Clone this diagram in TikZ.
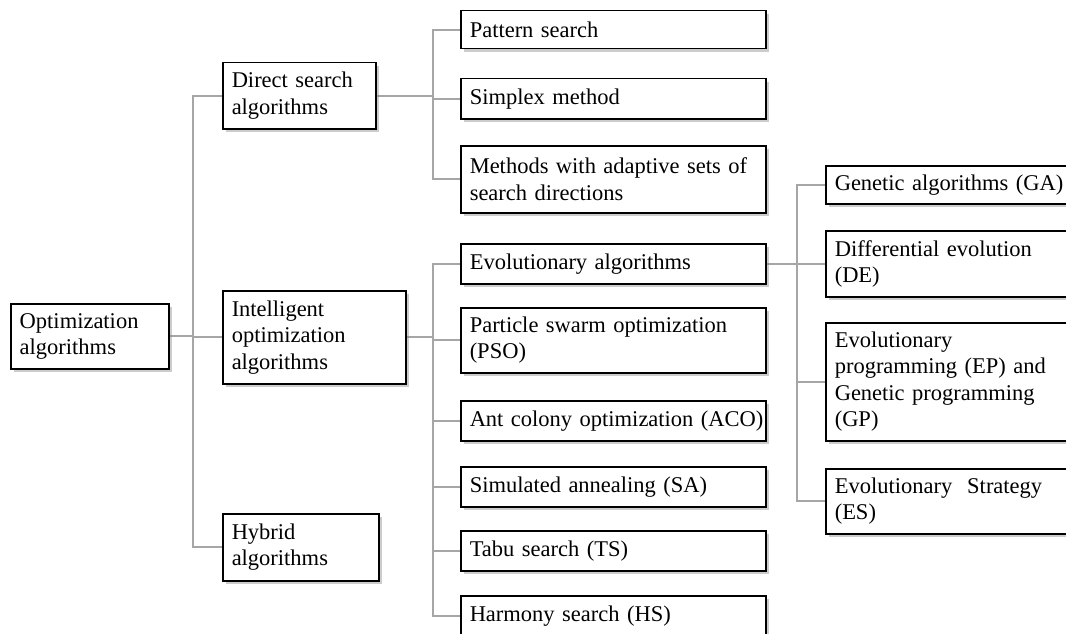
\documentclass[tikz,border=0pt]{standalone}
\usepackage{fontspec}
\setmainfont{Liberation Serif}
\usetikzlibrary{shadows,backgrounds}
\tikzset{
  box/.style 2 args={draw, line width=1.5pt, fill=white, anchor=north west,
    align=left, inner xsep=9pt, inner ysep=0pt, text width=#1, minimum height=#2,
    drop shadow={shadow xshift=3pt, shadow yshift=-3pt, opacity=.4}},
  link/.style={draw=gray!70, line width=2pt}
}
\begin{document}
\begin{tikzpicture}[x=1pt, y=-1pt, every node/.style={font=\fontsize{22.5}{26.5}\selectfont}]
  \useasboundingbox (0,0) rectangle (1066,634);
  \coordinate (t1) at (193,0); \coordinate (t2) at (433,0);
  \coordinate (t3) at (797,0);
  % level 1 and 2
  \node[box={140pt}{65pt}] (root) at (10,303) {Optimization\\algorithms};
  \node[box={135pt}{66pt}] (ds) at (222,62) {Direct search\\algorithms};
  \node[box={165pt}{93pt}] (io) at (222,290) {Intelligent\\optimization\\algorithms};
  \node[box={138pt}{67pt}] (hy) at (222,513) {Hybrid\\algorithms};
  % level 3
  \node[box={287pt}{38pt}] (ps) at (460,10) {Pattern search};
  \node[box={287pt}{40pt}] (sm) at (460,78) {Simplex method};
  \node[box={287pt}{67pt}] (md) at (460,145) {Methods with adaptive sets of\\search directions};
  \node[box={287pt}{40pt}] (ea) at (460,243) {Evolutionary algorithms};
  \node[box={287pt}{65pt}] (pso) at (460,307) {Particle swarm optimization\\(PSO)};
  \node[box={287pt}{40pt}] (aco) at (460,400) {\mbox{Ant colony optimization (ACO)}};
  \node[box={287pt}{40pt}] (sa) at (460,466) {Simulated annealing (SA)};
  \node[box={287pt}{40pt}] (ts) at (460,530) {Tabu search (TS)};
  \node[box={287pt}{40pt}] (hs) at (460,595) {Harmony search (HS)};
  % level 4
  \node[box={262pt}{38pt}] (ga) at (825,165) {\mbox{Genetic algorithms (GA)}};
  \node[box={262pt}{66pt}] (de) at (825,230) {Differential evolution\\(DE)};
  \node[box={262pt}{118pt}] (ep) at (825,322) {Evolutionary\\programming (EP) and\\Genetic programming\\(GP)};
  \node[box={262pt}{65pt}] (es) at (825,468) {Evolutionary~~Strategy\\(ES)};
  \begin{scope}[on background layer]
    \draw[link] (root.east) -- (root.east -| t1);
    \draw[link] (ds.west) -| (t1 |- hy.west) -- (hy.west);
    \draw[link] (io.west) -- (io.west -| t1);
    \draw[link] (ds.east) -- (ds.east -| t2);
    \draw[link] (ps.west) -| (t2 |- md.west) -- (md.west);
    \draw[link] (sm.west) -- (sm.west -| t2);
    \draw[link] (io.east) -- (io.east -| t2);
    \draw[link] (ea.west) -| (t2 |- hs.west) -- (hs.west);
    \foreach \n in {pso,aco,sa,ts} \draw[link] (\n.west) -- (\n.west -| t2);
    \draw[link] (ea.east) -- (de.west);
    \draw[link] (ga.west) -| (t3 |- es.west) -- (es.west);
    \draw[link] (ep.west) -- (ep.west -| t3);
  \end{scope}
\end{tikzpicture}
\end{document}
